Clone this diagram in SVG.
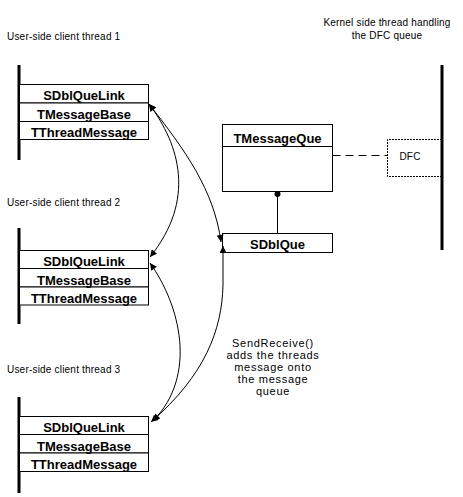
<svg xmlns="http://www.w3.org/2000/svg" width="463" height="497" viewBox="0 0 463 497">
<defs>
<style>
.bg{fill:#fff}
.lbl{font-family:"Liberation Sans",Arial,sans-serif;font-size:10px;letter-spacing:0.2px;fill:#000}
.note{font-family:"Liberation Sans",Arial,sans-serif;font-size:11px;letter-spacing:0.7px;fill:#000;text-anchor:middle}
.cls{font-family:"Liberation Sans",Arial,sans-serif;font-size:13px;font-weight:bold;fill:#000;text-anchor:middle}
.box{fill:#fff;stroke:#000;stroke-width:1}
.life{stroke:#000;stroke-width:3;fill:none}
.con{stroke:#000;stroke-width:1;fill:none}
</style>
<marker id="ah" viewBox="0 0 10 10" refX="10" refY="5" markerWidth="9" markerHeight="7" markerUnits="userSpaceOnUse" orient="auto-start-reverse">
<path d="M0,0 L10,5 L0,10 z" fill="#000"/>
</marker>
</defs>
<rect class="bg" x="0" y="0" width="463" height="497"/>

<g id="thread1">
<text class="lbl" x="7" y="40">User-side client thread 1</text>
<line class="life" x1="19" y1="65" x2="19" y2="160"/>
<rect class="box" x="19.5" y="84.5" width="129" height="18.5"/>
<rect class="box" x="19.5" y="103" width="129" height="18.5"/>
<rect class="box" x="19.5" y="121.5" width="129" height="18"/>
<text class="cls" x="84" y="100">SDblQueLink</text>
<text class="cls" x="84" y="118.5">TMessageBase</text>
<text class="cls" x="84" y="136.5">TThreadMessage</text>
</g>

<g id="thread2">
<text class="lbl" x="7" y="206">User-side client thread 2</text>
<line class="life" x1="19" y1="228" x2="19" y2="324"/>
<rect class="box" x="19.5" y="250.5" width="129" height="18"/>
<rect class="box" x="19.5" y="268.5" width="129" height="18.5"/>
<rect class="box" x="19.5" y="287" width="129" height="18"/>
<text class="cls" x="84" y="266">SDblQueLink</text>
<text class="cls" x="84" y="284.5">TMessageBase</text>
<text class="cls" x="84" y="302.5">TThreadMessage</text>
</g>

<g id="thread3">
<text class="lbl" x="7" y="373">User-side client thread 3</text>
<line class="life" x1="19" y1="397" x2="19" y2="493"/>
<rect class="box" x="19.5" y="416.5" width="129" height="18"/>
<rect class="box" x="19.5" y="434.5" width="129" height="18.5"/>
<rect class="box" x="19.5" y="453" width="129" height="18.5"/>
<text class="cls" x="84" y="432">SDblQueLink</text>
<text class="cls" x="84" y="450.5">TMessageBase</text>
<text class="cls" x="84" y="469">TThreadMessage</text>
</g>

<g id="kernel">
<text class="lbl" x="387" y="26" text-anchor="middle">Kernel side thread handling</text>
<text class="lbl" x="387" y="39" text-anchor="middle">the DFC queue</text>
<line class="life" x1="442" y1="65" x2="442" y2="250"/>
</g>

<g id="dfc">
<path d="M442,139.5 H387.5 V176.5 H442" fill="none" stroke="#000" stroke-width="1" stroke-dasharray="2,1"/>
<text class="lbl" x="410" y="160" text-anchor="middle">DFC</text>
</g>

<g id="tmessageque">
<rect class="box" x="222.5" y="124.5" width="110" height="67"/>
<line class="con" x1="222.5" y1="146.5" x2="332.5" y2="146.5"/>
<text class="cls" x="277.5" y="143">TMessageQue</text>
</g>

<g id="sdblque">
<rect class="box" x="222.5" y="233.5" width="110" height="19"/>
<text class="cls" x="277.5" y="249">SDblQue</text>
</g>

<g id="note">
<text class="note" x="273" y="347">SendReceive()</text>
<text class="note" x="273" y="359">adds the threads</text>
<text class="note" x="273" y="371">message onto</text>
<text class="note" x="273" y="383">the message</text>
<text class="note" x="273" y="395">queue</text>
</g>

<g id="connectors">
<line class="con" x1="332.5" y1="155.5" x2="387" y2="155.5" stroke-dasharray="8,5"/>
<line class="con" x1="277.5" y1="194" x2="277.5" y2="233"/>
<circle cx="277.5" cy="194" r="3" fill="#000"/>
<path class="con" d="M149,104 C180,145 196,200 150,257" marker-start="url(#ah)" marker-end="url(#ah)"/>
<path class="con" d="M149,104 C185,150 214,190 221,242" marker-start="url(#ah)" marker-end="url(#ah)"/>
<path class="con" d="M223,246 L223,285 C222,330 205,375 151,422" marker-start="url(#ah)" marker-end="url(#ah)"/>
<path class="con" d="M150,263 C180,305 198,375 153,421" marker-start="url(#ah)" marker-end="url(#ah)"/>
</g>
</svg>
